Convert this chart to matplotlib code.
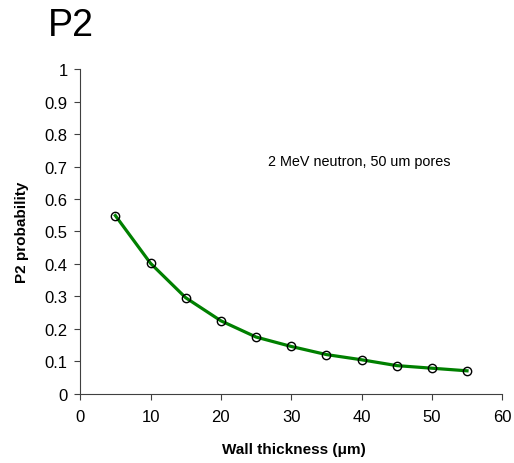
import matplotlib.pyplot as plt
import numpy as np

plt.rcParams["font.family"] = ["Liberation Sans", "DejaVu Sans"]

thickness = [5, 10, 15, 20, 25, 30, 35, 40, 45, 50, 55]
p2 = [0.549, 0.402, 0.296, 0.225, 0.175, 0.146, 0.121, 0.105, 0.087, 0.079, 0.071]
ytick_labels = ["0", "0.1", "0.2", "0.3", "0.4", "0.5", "0.6", "0.7", "0.8", "0.9", "1"]

fig = plt.figure(figsize=(5.14, 4.64), dpi=100)
ax = fig.add_axes([0.156, 0.149, 0.821, 0.700])

ax.plot(thickness, p2, color="#008000", linewidth=2.3, zorder=2)
ax.plot(thickness, p2, linestyle="none", marker="o", markersize=6,
        markerfacecolor="none", markeredgecolor="black", markeredgewidth=1.0, zorder=3)

ax.set_xlim(0, 60)
ax.set_ylim(0, 1)
ax.set_xticks(np.arange(0, 61, 10))
ax.set_yticks(np.arange(0, 1.01, 0.1))
ax.set_yticklabels(ytick_labels)
ax.tick_params(labelsize=12, direction="out", length=4, width=0.8, color="#404040")
ax.tick_params(axis="x", pad=7)
ax.tick_params(axis="y", pad=5)
for s in ["top", "right"]:
    ax.spines[s].set_visible(False)
for s in ["left", "bottom"]:
    ax.spines[s].set_color("#404040")

ax.set_xlabel("Wall thickness (\u03bcm)", fontsize=11, fontweight="bold")
ax.set_ylabel("P2 probability", fontsize=11, fontweight="bold")
ax.xaxis.set_label_coords(0.507, -0.148)
ax.yaxis.set_label_coords(-0.121, 0.5)

ax.text(0.445, 0.717, "2 MeV neutron, 50 um pores", transform=ax.transAxes,
        fontsize=10.4, va="center")
fig.text(0.093, 0.922, "P2", fontsize=27, va="baseline")

fig.savefig("out.png", dpi=100)
